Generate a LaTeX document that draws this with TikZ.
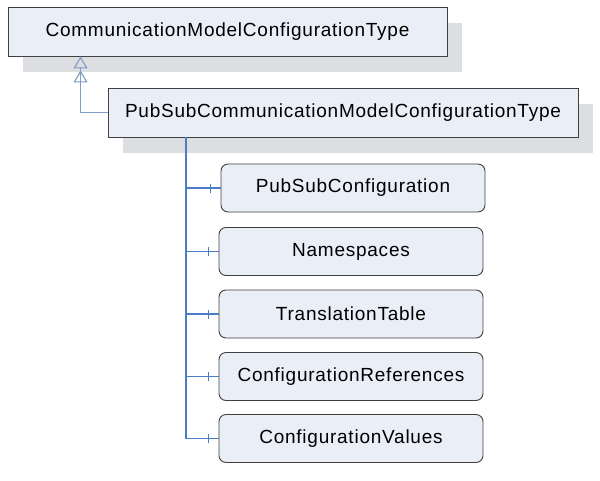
\documentclass[tikz,border=0pt]{standalone}
\usepackage{fontspec}
\setmainfont{Liberation Sans}[LetterSpace=4]
\usetikzlibrary{arrows.meta,shadows}
\definecolor{boxfill}{HTML}{E9EEF7}
\definecolor{boxline}{HTML}{404040}
\definecolor{shadowc}{HTML}{DCDEE2}
\definecolor{compc}{HTML}{4A7CC8}
\definecolor{genc}{HTML}{7F9CC6}
\begin{document}
\begin{tikzpicture}[x=1pt,y=-1pt,
  cls/.style={draw=boxline, fill=boxfill, line width=0.9pt, inner sep=0pt,
    minimum height=49pt, font=\fontsize{19}{22}\selectfont,
    drop shadow={shadow xshift=15pt, shadow yshift=-16pt, fill=shadowc, opacity=1}},
  kid/.style={draw=boxline, fill=boxfill, line width=0.9pt, inner sep=0pt,
    rounded corners=7pt, minimum width=264pt, minimum height=48pt,
    font=\fontsize{19}{22}\selectfont},
  comp/.style={draw=compc, line width=1.5pt},
  trunk/.style={draw=compc, line width=2pt},
  gen/.style={draw=genc, line width=1.1pt,
    -{Triangle[open,length=12pt,width=14pt,sep=2pt]Triangle[open,length=12pt,width=14pt]}}
]
\useasboundingbox (0,0) rectangle (600,480);
\node[cls, minimum width=439pt] (b1) at (227.5,31.5) {CommunicationModelConfigurationType};
\node[cls, minimum width=470pt] (b2) at (343,112.5) {PubSubCommunicationModelConfigurationType};
\coordinate (g) at ([xshift=73pt]b1.south west);
\draw[gen] (b2.west) -| (g);

\node[kid] (k1) at (353,188) {PubSubConfiguration};
\node[kid] (k2) at (351,251.5) {Namespaces};
\node[kid] (k3) at (351,314) {TranslationTable};
\node[kid] (k4) at (351,376.5) {ConfigurationReferences};
\node[kid] (k5) at (351,438.5) {ConfigurationValues};

\coordinate (t0) at ([xshift=78pt]b2.south west);
\foreach \k in {k1,k2,k3,k4,k5}{
  \draw[comp] (t0) |- (\k.west);
  \draw[comp] ([xshift=-10pt,yshift=-4.5pt]\k.west) -- ([xshift=-10pt,yshift=4.5pt]\k.west);
}
\draw[trunk] (t0) -- (t0 |- k5.west);
\end{tikzpicture}
\end{document}
